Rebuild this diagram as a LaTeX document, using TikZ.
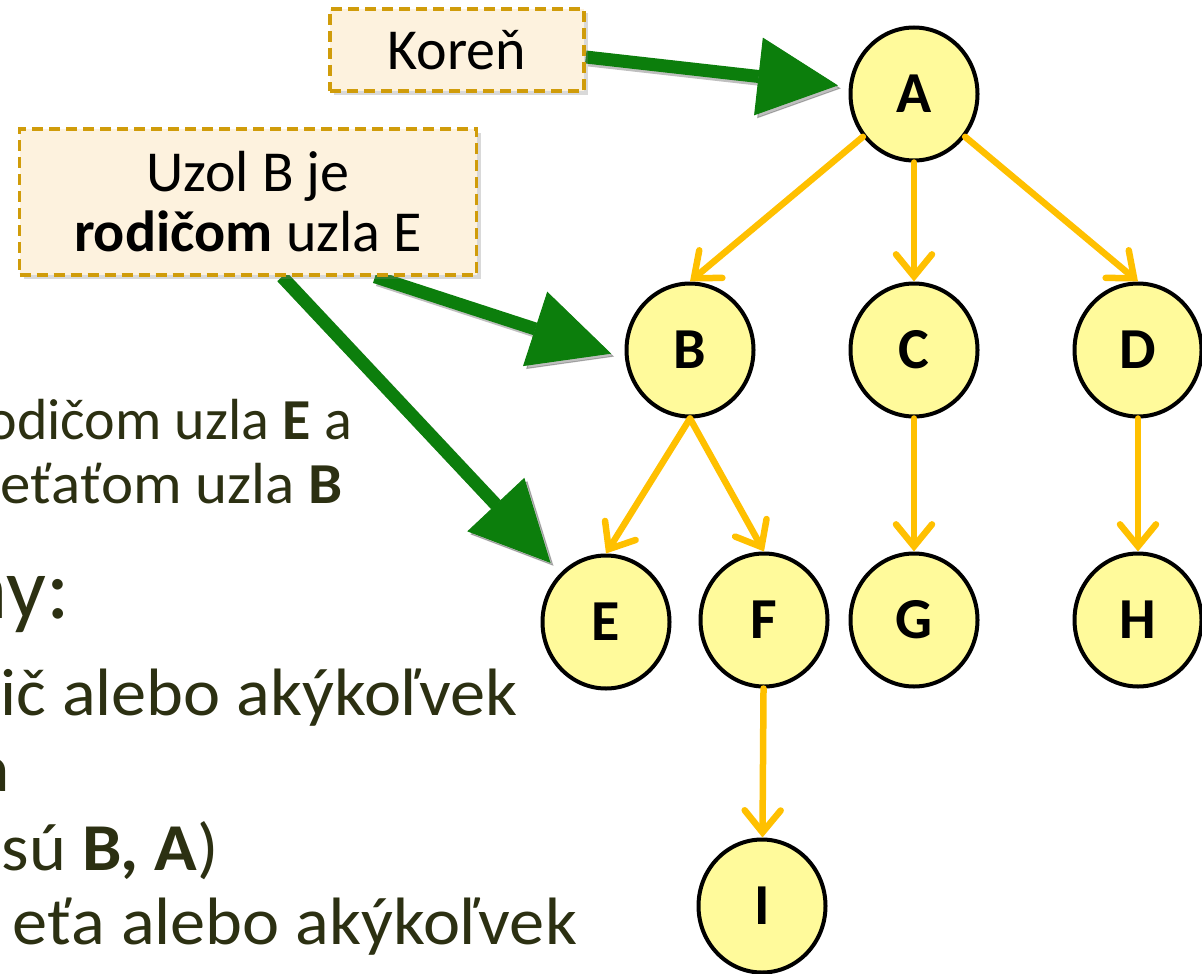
\documentclass[tikz,border=0pt]{standalone}
\usepackage{fontspec}
\setmainfont{Carlito}
\newfontfamily\sirokypis[FakeStretch=1.05]{Carlito}
\usetikzlibrary{arrows.meta,shapes.geometric,shadows,backgrounds}

\definecolor{uzolfill}{RGB}{255,250,155}
\definecolor{hranacol}{RGB}{255,192,0}
\definecolor{zelena}{RGB}{12,126,12}
\definecolor{popisfill}{RGB}{253,242,222}
\definecolor{popisdraw}{RGB}{208,156,10}
\definecolor{textcol}{RGB}{44,48,18}

\newcommand{\malypis}{\fontsize{58}{60}\selectfont}
\newcommand{\velkypis}{\sirokypis\fontsize{67}{70}\selectfont}
\newcommand{\nadpispis}{\fontsize{88}{90}\selectfont}

\tikzset{
  uzol/.style={ellipse, draw=black, line width=4pt, fill=uzolfill,
    minimum width=127pt, minimum height=133pt, inner sep=0pt,
    font=\malypis\bfseries},
  hrana/.style={draw=hranacol, line width=6.5pt, line cap=round,
    -{Straight Barb[length=22pt,width=36pt,line cap=round]}},
  popis/.style={draw=popisdraw, fill=popisfill, line width=3.5pt,
    dash pattern=on 11pt off 6pt, inner sep=0pt, align=center,
    drop shadow={shadow xshift=4pt, shadow yshift=-4pt, opacity=0.3},
    font=\malypis},
  sipka/.style={draw=zelena, line width=13pt,
    -{Triangle[length=80pt,width=78pt,line width=1pt]}},
  tien/.style={sipka, draw=black, opacity=0.25,
    transform canvas={xshift=3pt,yshift=-3pt}},
  riadok/.style={anchor=base east, inner sep=0pt, text=textcol}
}

\begin{document}
\begin{tikzpicture}[x=1pt,y=-1pt]
\useasboundingbox (0,0) rectangle (1202,974);

%text of the slide, cut at the left edge
\node[riadok, font=\malypis] (riadok1) at (352,439) {odičom uzla \textbf{E} a};
\node[riadok, font=\malypis\sirokypis] (riadok2) at (343,503) {eťaťom uzla \textbf{B}};
\node[riadok, font=\nadpispis] (nadpis) at (70,618) {ny:};
\node[riadok, font=\velkypis] (riadok4) at (518,715) {ič alebo akýkoľvek};
\node[riadok, font=\velkypis] (riadok5) at (9,791) {\textbf{a}};
\node[riadok, font=\velkypis] (riadok6) at (219,870) {sú \textbf{B, A})};
\node[riadok, font=\velkypis] (riadok7) at (577,944) {eťa alebo akýkoľvek};

%the tree nodes
\foreach \meno/\x/\y in {A/914/94,B/690/350,C/914/350,D/1138/350,
    E/606/622,F/764/620,G/914/620,H/1138/620,I/762/906}{
  \node[uzol] (\meno) at (\x,\y) {\meno};
}

%straight edges
\foreach \z/\k in {A/C,C/G,D/H,F/I}{
  \draw[hrana] (\z) -- (\k);
}
%slanted edges
\foreach \k in {B,D}{
  \draw[hrana] (A) -- (\k.north);
}
\foreach \k in {E,F}{
  \draw[hrana] (B.south) -- (\k.north);
}

%callouts
\node[popis, minimum width=254pt, minimum height=82pt] (koren) at (457,50) {Koreň};
\node[popis, minimum width=457pt, minimum height=146pt] (popisB) at (248,202)
  {Uzol B je\\\textbf{rodičom} uzla E};

%green arrows behind the callouts
\begin{scope}[on background layer]
\draw[tien, shorten >=11pt] ([yshift=-7pt]koren.east) -- (A);
\draw[tien, shorten >=14pt] ([xshift=127pt]popisB.south) -- ([yshift=-8pt]B.west);
\draw[tien, shorten >=14pt] ([xshift=34pt]popisB.south) -- (E);
\draw[sipka, shorten >=11pt] ([yshift=-7pt]koren.east) -- (A);
\draw[sipka, shorten >=14pt] ([xshift=127pt]popisB.south) -- ([yshift=-8pt]B.west);
\draw[sipka, shorten >=14pt] ([xshift=34pt]popisB.south) -- (E);
\end{scope}
\end{tikzpicture}
\end{document}
